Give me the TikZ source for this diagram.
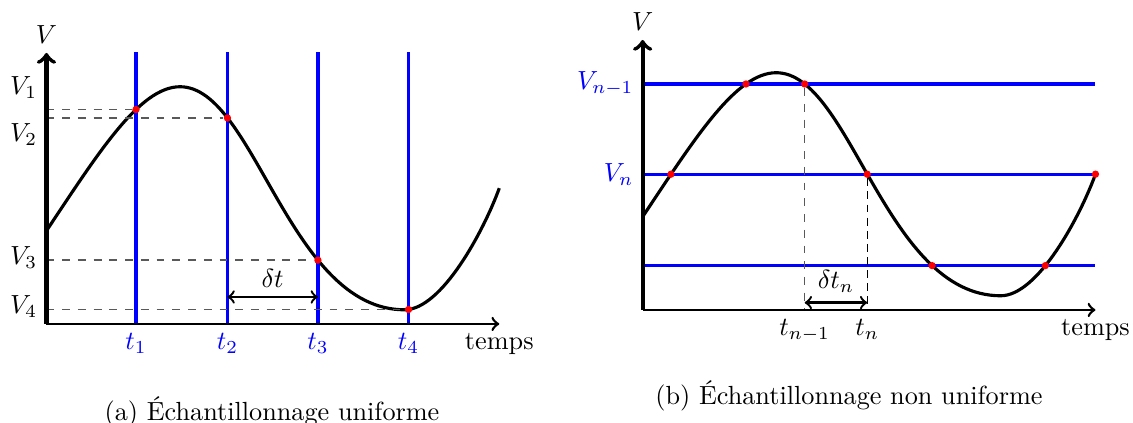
\documentclass[tikz,border=0pt]{standalone}
\usepackage{fontspec}
\usepackage{tikz}
\usetikzlibrary{calc, intersections}

% la meme courbe dans les deux graphes
\newcommand{\courbe}{%
    \draw[signal, name path=courbe] (0,1.25) .. controls (0.7,2.3) and (1.25,3.18) .. (1.79,3.18)
        .. controls (2.79,3.18) and (3.25,0.19) .. (4.8,0.19)
        .. controls (5.3,0.19) and (5.865,1.256) .. (6.07,1.82) coordinate (fin);%
}

\begin{document}
\begin{tikzpicture}[
    axe/.style={draw, line width=1pt, ->},
    axev/.style={draw, line width=1.6pt, ->},
    signal/.style={line width=1.2pt},
    niveau/.style={draw, blue, line width=1.2pt},
    tirets/.style={draw, dashed, black!65, line width=0.6pt},
    pt/.style={circle, fill=red, inner sep=0pt, minimum size=2.8pt},
    fleche/.style={draw, <->, line width=0.9pt}
]
    \useasboundingbox (0,0) rectangle (15.188,5.670);

    % (a) echantillonnage uniforme
    \begin{scope}[shift={(0.623,1.327)}]
        \coordinate (Oa) at (0,0);
        \coordinate (Xa) at (6.07,0);
        \coordinate (Ya) at (0,3.633);

        \courbe

        \foreach \x [count=\i] in {1.200,2.426,3.639,4.853} {
            \coordinate (ta\i) at (\x,0);
            \coordinate (ha\i) at (\x,3.646);
            \draw[niveau, name path=ligne] (ta\i) -- (ha\i);
            \path[name intersections={of=courbe and ligne, by={a\i}}];
            \node[below, blue] (lta\i) at (ta\i) {$t_\i$};
        }

        \foreach \i in {1,...,4} {
            \node[pt] (pa\i) at (a\i) {};
            \draw[tirets] (pa\i -| Oa) -- (pa\i);
        }

        \node[left] (va1) at (0,3.164) {$V_1$};
        \node[left] (va2) at (0,2.534) {$V_2$};
        \node[left] (va3) at (0,0.885) {$V_3$};
        \node[left] (va4) at (0,0.228) {$V_4$};

        \coordinate (da1) at (2.426,0.362);
        \coordinate (da2) at (3.639,0.362);
        \draw[fleche] (da1) -- node[above] (dta) {$\delta t$} (da2);

        \draw[axe] (Oa) -- (Xa);
        \draw[axev] (Oa) -- (Ya);
        \node[below] (tpa) at (Xa) {temps};
        \node[above] (Va) at (Ya) {$V$};

        \node (capa) at (3.023,-1.18) {(a) Échantillonnage uniforme};
    \end{scope}

    % (b) echantillonnage non uniforme
    \begin{scope}[shift={(8.615,1.515)}]
        \coordinate (Ob) at (0,0);
        \coordinate (Xb) at (6.07,0);
        \coordinate (Yb) at (0,3.619);

        \courbe

        \coordinate (gb1) at (0,3.029);
        \coordinate (hb1) at (6.07,3.029);
        \coordinate (gb2) at (0,1.82);
        \coordinate (hb2) at (6.07,1.82);
        \coordinate (gb3) at (0,0.594);
        \coordinate (hb3) at (6.07,0.594);
        \draw[niveau, name path=n1] (gb1) -- (hb1);
        \draw[niveau, name path=n2] (gb2) -- (hb2);
        \draw[niveau, name path=n3] (gb3) -- (hb3);
        \node[left, blue] (vb1) at (gb1) {$V_{n-1}$};
        \node[left, blue] (vb2) at (gb2) {$V_n$};

        \path[name intersections={of=courbe and n1, sort by=courbe, by={b2,b3}}];
        \path[name intersections={of=courbe and n2, sort by=courbe, by={b1,b4}}];
        \path[name intersections={of=courbe and n3, sort by=courbe, by={b5,b6}}];

        \foreach \i in {1,...,6} {
            \node[pt] (pb\i) at (b\i) {};
        }
        \node[pt] (pb7) at (fin) {};

        \coordinate (tb1) at (pb3 |- Ob);
        \coordinate (tb2) at (pb4 |- Ob);
        \draw[tirets] (pb3) -- (tb1);
        \draw[densely dashed, line width=0.5pt] (pb4) -- (tb2);

        \coordinate (db1) at ($(tb1)+(0,0.098)$);
        \coordinate (db2) at ($(tb2)+(0,0.098)$);
        \draw[fleche] (db1) -- node[above] (dtb) {$\delta t_n$} (db2);

        \draw[axe] (Ob) -- (Xb);
        \draw[axev] (Ob) -- (Yb);
        \node[below] (ltb1) at (tb1) {$t_{n-1}$};
        \node[below] (ltb2) at (tb2) {$t_n$};
        \node[below] (tpb) at (Xb) {temps};
        \node[above] (Vb) at (Yb) {$V$};

        \node[align=center, anchor=north] (capb) at (2.765,-0.83)
            {(b) Échantillonnage non uniforme\\[6pt] (par traversée de niveaux)};
    \end{scope}
\end{tikzpicture}
\end{document}
